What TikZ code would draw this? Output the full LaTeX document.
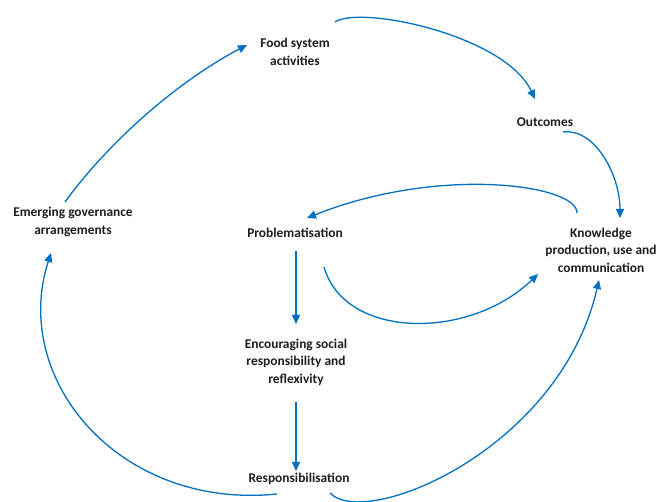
\documentclass[tikz,border=0pt]{standalone}
\usepackage{fontspec}
\setmainfont{Carlito}
\usetikzlibrary{arrows.meta}
\definecolor{arrblue}{RGB}{0,112,192}
\definecolor{txt}{RGB}{30,30,30}
\tikzset{
  lbl/.style={align=center, font=\fontsize{13.4}{17.5}\selectfont\bfseries, text=txt, inner sep=0pt},
  arr/.style={draw=arrblue, line width=1.3pt, -{Triangle[length=9pt,width=8pt]}}
}
\begin{document}
\begin{tikzpicture}[x=1pt,y=-1pt]
\useasboundingbox[fill=white] (0,0) rectangle (657,502);
\begin{scope}
\clip (0,0) rectangle (657,502);
\node[lbl] (food) at (295,52) {Food system\\activities};
\node[lbl] (out) at (545,122) {Outcomes};
\node[lbl] (emerg) at (73,222) {Emerging governance\\arrangements};
\node[lbl] (prob) at (295,233) {Problematisation};
\node[lbl] (know) at (601,250) {Knowledge\\production, use and\\communication};
\node[lbl] (enc) at (296,362) {Encouraging social\\responsibility and\\reflexivity};
\node[lbl] (resp) at (299,479) {Responsibilisation};
% emerging -> food
\draw[arr] ([shift={(-8,-20)}]emerg.center) .. controls (110,140) and (180,80) .. ([shift={(-48,-7)}]food.center);
% food -> outcomes
\draw[arr] ([shift={(40,-30)}]food.center) .. controls (360,5) and (505,35) .. ([shift={(-10,-23)}]out.center);
% outcomes -> knowledge
\draw[arr] ([shift={(18,10)}]out.center) .. controls (595,128) and (620,175) .. ([shift={(19,-32)}]know.center);
% knowledge -> problematisation
\draw[arr] ([shift={(-24,-37)}]know.center) .. controls (578,185) and (440,165) .. ([shift={(12,-15)}]prob.center);
% problematisation -> knowledge
\draw[arr] ([shift={(29,34)}]prob.center) .. controls (345,340) and (470,340) .. ([shift={(-63,24)}]know.center);
% problematisation -> encouraging
\draw[arr] ([shift={(1,18)}]prob.center) -- ([shift={(0,-38)}]enc.center);
% encouraging -> responsibilisation
\draw[arr] ([shift={(0,40)}]enc.center) -- ([shift={(-3,-8)}]resp.center);
% responsibilisation -> emerging
\draw[arr] ([shift={(-22,15)}]resp.center) .. controls (120,510) and (10,380) .. ([shift={(-22,31)}]emerg.center);
% responsibilisation -> knowledge
\draw[arr] ([shift={(31,14)}]resp.center) .. controls (365,530) and (560,450) .. ([shift={(-2,30)}]know.center);
\end{scope}
\end{tikzpicture}
\end{document}
